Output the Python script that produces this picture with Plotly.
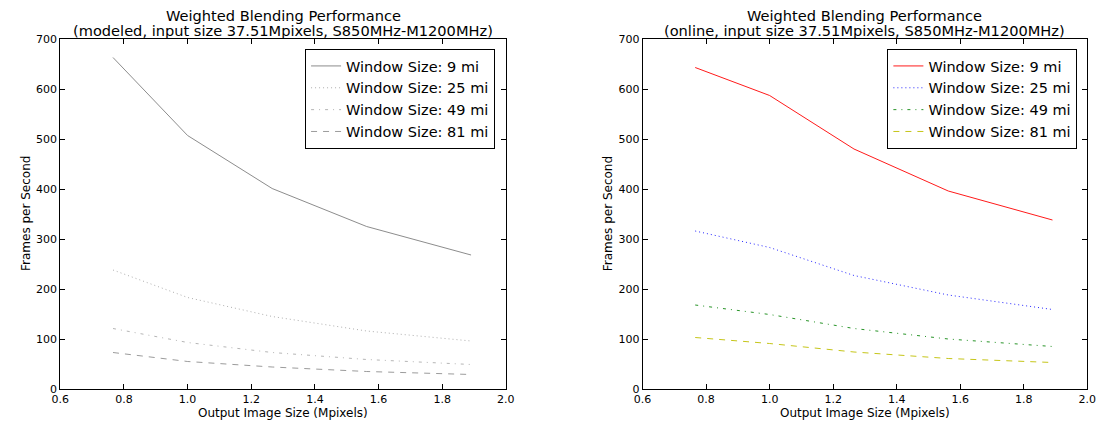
import plotly.graph_objects as go

# Data
output_sizes = [0.765625, 1.0, 1.265625, 1.5625, 1.890625]
series_names = ["Window Size: 9 mi", "Window Size: 25 mi", "Window Size: 49 mi", "Window Size: 81 mi"]

modeled_9 = [663, 507, 401, 325, 268]
modeled_25 = [238, 183, 145, 116, 96]
modeled_49 = [121, 93, 73, 59, 49]
modeled_81 = [73, 55, 44, 35, 29]

online_9 = [643, 587, 480, 396, 338]
online_25 = [316, 283, 227, 188, 159]
online_49 = [168, 149, 121, 100, 85]
online_81 = [103, 91, 74, 61, 53]

x_ticks = [0.6, 0.8, 1.0, 1.2, 1.4, 1.6, 1.8, 2.0]
y_ticks = [0, 100, 200, 300, 400, 500, 600, 700]

title_line1 = "Weighted Blending Performance"
title_left_line2 = "(modeled, input size 37.51Mpixels, S850MHz-M1200MHz)"
title_right_line2 = "(online, input size 37.51Mpixels, S850MHz-M1200MHz)"
x_title = "Output Image Size (Mpixels)"
y_title = "Frames per Second"

DOT, DASH, DASHDOT = "1px,3px", "6px,6px", "3px,5px,1px,5px"
left_styles = [("rgba(120,120,120,0.85)", "solid"), ("rgba(140,140,140,0.7)", DOT),
               ("rgba(150,150,150,0.7)", DASHDOT), ("rgba(130,130,130,0.8)", DASH)]
right_styles = [("rgba(255,0,0,0.9)", "solid"), ("rgba(0,0,255,0.85)", DOT),
                ("rgba(0,128,0,0.85)", DASHDOT), ("rgba(191,191,0,0.9)", DASH)]

fig = go.Figure()
for name, ys, (c, d) in zip(series_names, [modeled_9, modeled_25, modeled_49, modeled_81], left_styles):
    fig.add_trace(go.Scatter(x=output_sizes, y=ys, name=name, mode="lines",
                             line=dict(color=c, dash=d, width=1), xaxis="x", yaxis="y", legend="legend"))
for name, ys, (c, d) in zip(series_names, [online_9, online_25, online_49, online_81], right_styles):
    fig.add_trace(go.Scatter(x=output_sizes, y=ys, name=name, mode="lines",
                             line=dict(color=c, dash=d, width=1), xaxis="x2", yaxis="y2", legend="legend2"))

# page body has 8px margin -> figure drawn in 1101x415 visible area
W, H = 1101, 415
TOP, BOTTOM = 31, 381          # plot area top / bottom in figure pixels
PH = BOTTOM - TOP


def py(p):
    return (BOTTOM - p) / PH


axis_common = dict(showline=True, linecolor="black", linewidth=1, mirror="ticks", ticks="inside",
                   ticklen=5, tickcolor="black", showgrid=False, zeroline=False,
                   tickfont=dict(family="DejaVu Sans", size=11, color="black"))

xd1 = [44 / W, 497 / W]
xd2 = [636 / W, 1088 / W]

leg_common = dict(bordercolor="black", borderwidth=1, bgcolor="white",
                  font=dict(family="DejaVu Sans", size=14.5, color="black"),
                  xanchor="right", yanchor="top", y=py(41), tracegroupgap=0, itemwidth=30)

annotations = []
for xd, line2, ytx in [(xd1, title_left_line2, 0), (xd2, title_right_line2, 592)]:
    cx = (xd[0] + xd[1]) / 2
    annotations.append(dict(text=title_line1, x=cx, y=py(7), xref="paper", yref="paper",
                            xanchor="center", yanchor="middle", showarrow=False,
                            font=dict(family="DejaVu Sans", size=14.6, color="black")))
    annotations.append(dict(text=line2, x=cx, y=py(23), xref="paper", yref="paper",
                            xanchor="center", yanchor="middle", showarrow=False,
                            font=dict(family="DejaVu Sans", size=14.6, color="black")))
    annotations.append(dict(text=x_title, x=cx, y=py(404.5), xref="paper", yref="paper",
                            xanchor="center", yanchor="middle", showarrow=False,
                            font=dict(family="DejaVu Sans", size=12, color="black")))
    annotations.append(dict(text=y_title, x=ytx / W, y=py(206), xref="paper", yref="paper",
                            xanchor="left", yanchor="middle", showarrow=False, textangle=-90,
                            font=dict(family="DejaVu Sans", size=12, color="black")))

fig.update_layout(
    width=W, height=H,
    margin=dict(l=0, r=0, t=TOP, b=H - BOTTOM, pad=0),
    plot_bgcolor="white", paper_bgcolor="white",
    font=dict(family="DejaVu Sans", color="black"),
    xaxis=dict(domain=xd1, range=[0.6, 2.0], tickvals=x_ticks, ticktext=[f"{v:.1f}" for v in x_ticks],
               anchor="y", **axis_common),
    yaxis=dict(domain=[0, 1], range=[0, 700], tickvals=y_ticks, anchor="x", **axis_common),
    xaxis2=dict(domain=xd2, range=[0.6, 2.0], tickvals=x_ticks, ticktext=[f"{v:.1f}" for v in x_ticks],
                anchor="y2", **axis_common),
    yaxis2=dict(domain=[0, 1], range=[0, 700], tickvals=y_ticks, anchor="x2", **axis_common),
    legend=dict(x=486 / W, xref="paper", **leg_common),
    legend2=dict(x=1078 / W, xref="paper", **leg_common),
    showlegend=True,
    annotations=annotations,
)

fig.write_html("out.html")
